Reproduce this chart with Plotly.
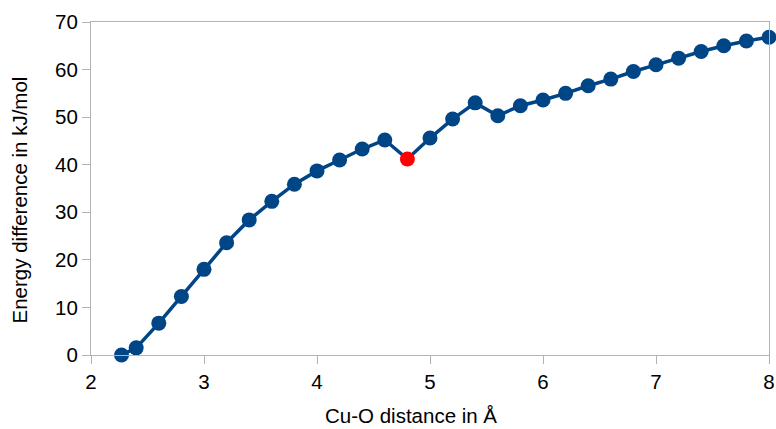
import plotly.graph_objects as go

distance = [2.27, 2.4, 2.6, 2.8, 3.0, 3.2, 3.4, 3.6, 3.8, 4.0, 4.2, 4.4, 4.6, 4.8,
            5.0, 5.2, 5.4, 5.6, 5.8, 6.0, 6.2, 6.4, 6.6, 6.8, 7.0, 7.2, 7.4, 7.6, 7.8, 8.0]
energy = [0.0, 1.5, 6.7, 12.3, 18.0, 23.6, 28.4, 32.3, 35.9, 38.7, 41.0, 43.3, 45.2, 41.2,
          45.6, 49.6, 53.0, 50.3, 52.4, 53.6, 55.0, 56.6, 58.0, 59.6, 61.0, 62.4, 63.8, 65.0, 66.0, 66.8]
highlight_x = 4.8
x_title = "Cu-O distance in Å"
y_title = "Energy difference in kJ/mol"

blue = "#004586"
red = "#ff0000"
marker_colors = [red if abs(x - highlight_x) < 1e-9 else blue for x in distance]

FONT = "Liberation Sans, Arial, sans-serif"
FS = 20.5

fig = go.Figure()
fig.add_trace(go.Scatter(
    x=distance, y=energy, mode="lines+markers",
    line=dict(color=blue, width=3.5),
    marker=dict(color=marker_colors, size=15),
    showlegend=False, cliponaxis=False,
))

axis_common = dict(
    showline=True, linecolor="#b3b3b3", linewidth=1, mirror=True,
    showgrid=False, zeroline=False, automargin=False,
    ticks="outside", ticklen=8, tickcolor="#b3b3b3", tickwidth=1,
    tickfont=dict(family=FONT, size=FS, color="#000000"),
)

fig.update_xaxes(range=[2, 8], dtick=1, tick0=2, **axis_common)
fig.update_yaxes(range=[0, 70], dtick=10, tick0=0, **axis_common)

fig.add_annotation(text=x_title, xref="paper", yref="paper", x=0.472, y=-0.183,
                   xanchor="center", yanchor="middle", showarrow=False,
                   font=dict(family=FONT, size=FS, color="#000000"))
fig.add_annotation(text=y_title, xref="paper", yref="paper", x=-0.104, y=0.4655,
                   xanchor="center", yanchor="middle", showarrow=False, textangle=-90,
                   font=dict(family=FONT, size=FS, color="#000000"))

fig.update_layout(
    width=776, height=429,
    margin=dict(l=91, r=7, t=22, b=74, autoexpand=False),
    plot_bgcolor="#ffffff", paper_bgcolor="#ffffff",
)

fig.write_html("out.html")
